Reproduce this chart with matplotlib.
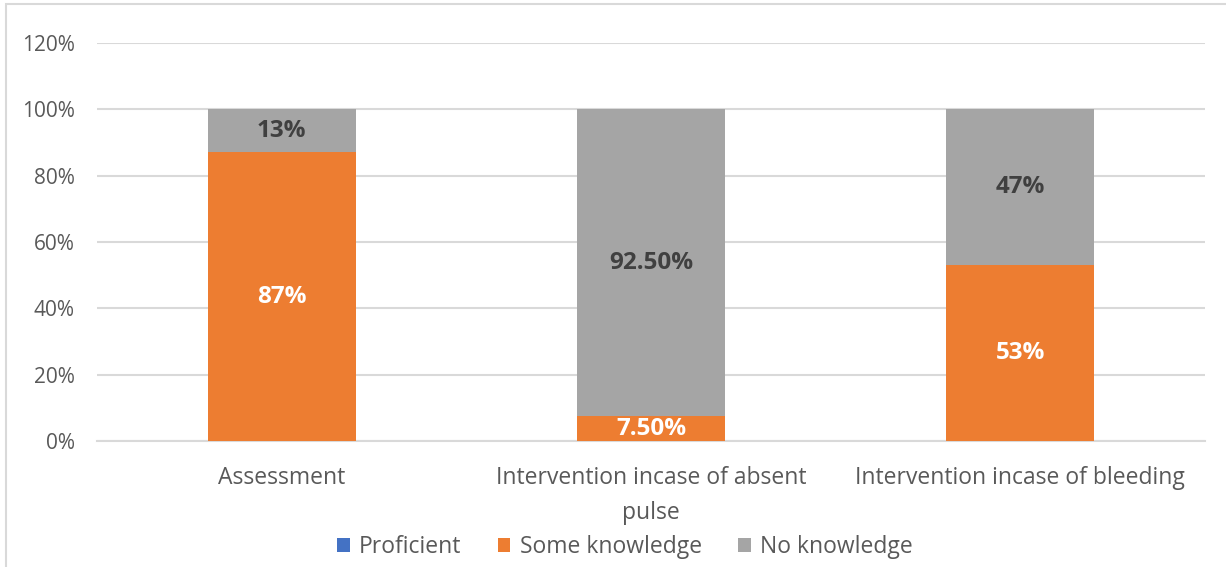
import matplotlib.pyplot as plt
from matplotlib.patches import Rectangle
import numpy as np

plt.rcParams['font.family'] = ['Open Sans', 'DejaVu Sans']

categories = ['Assessment', 'Intervention incase of absent\npulse', 'Intervention incase of bleeding']
proficient = [0, 0, 0]
some_knowledge = [87, 7.5, 53]
no_knowledge = [13, 92.5, 47]
some_labels = ['87%', '7.50%', '53%']
none_labels = ['13%', '92.50%', '47%']

blue = '#4472C4'
orange = '#ED7D31'
grey = '#A5A5A5'
text_col = '#595959'
grid_col = '#D9D9D9'

fig = plt.figure(figsize=(12.26, 5.67), dpi=100)
ax = fig.add_axes([97 / 1226, 126 / 567, 1108 / 1226, 398 / 567])

# outer chart border, only top and left edges fall inside the image
fig.patches.append(Rectangle((6 / 1226, -0.5), 2.0, 1.5 - 4 / 567, transform=fig.transFigure,
                             fill=False, edgecolor=grid_col, linewidth=1.5))

x = np.arange(len(categories))
w = 0.4
p = np.array(proficient) / 100
s = np.array(some_knowledge) / 100
n = np.array(no_knowledge) / 100

ax.bar(x, p, w, color=blue, label='Proficient', zorder=3)
ax.bar(x, s, w, bottom=p, color=orange, label='Some knowledge', zorder=3)
ax.bar(x, n, w, bottom=p + s, color=grey, label='No knowledge', zorder=3)

for i in range(len(x)):
    ax.text(x[i], p[i] + s[i] / 2, some_labels[i], ha='center', va='center',
            color='white', fontsize=17.5, fontweight='bold', zorder=4)
    ax.text(x[i], p[i] + s[i] + n[i] / 2, none_labels[i], ha='center', va='center',
            color='#404040', fontsize=17.5, fontweight='bold', zorder=4)

ax.set_xlim(-0.5, 2.5)
ax.set_ylim(0, 1.2)
ax.set_yticks(np.arange(0, 1.21, 0.2))
ax.set_yticklabels([f'{int(round(v * 100))}%' for v in np.arange(0, 1.21, 0.2)])
ax.set_xticks(x)
ax.set_xticklabels(categories, linespacing=1.63)
ax.tick_params(axis='both', length=0, labelcolor=text_col)
ax.tick_params(axis='y', labelsize=15, pad=16)
ax.tick_params(axis='x', labelsize=16.5, pad=18)
ax.grid(axis='y', color=grid_col, linewidth=1.5, zorder=0)
for sp in ['top', 'right', 'left']:
    ax.spines[sp].set_visible(False)
ax.spines['bottom'].set_color(grid_col)
ax.spines['bottom'].set_linewidth(1.5)

fig.legend(loc='center', bbox_to_anchor=(625 / 1226, 1 - 547 / 567), ncol=3, frameon=False,
           fontsize=16.5, labelcolor=text_col, handlelength=0.55, handleheight=0.55,
           handletextpad=0.4, columnspacing=1.6)

fig.savefig('out.png', dpi=100)
